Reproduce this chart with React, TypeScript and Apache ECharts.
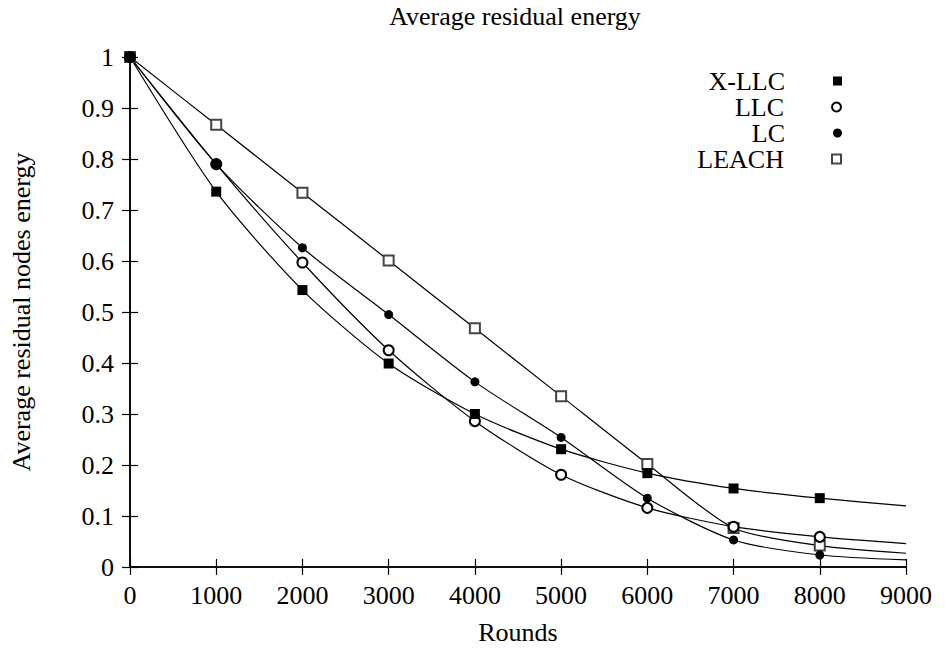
import React, { useEffect, useRef } from "react";
import * as echarts from "echarts";

const rounds = [0, 1000, 2000, 3000, 4000, 5000, 6000, 7000, 8000, 9000];
const xllcValues = [1, 0.736, 0.543, 0.399, 0.3, 0.231, 0.184, 0.154, 0.135, 0.12];
const llcValues = [1, 0.79, 0.597, 0.425, 0.286, 0.181, 0.116, 0.079, 0.059, 0.046];
const lcValues = [1, 0.79, 0.626, 0.495, 0.363, 0.254, 0.135, 0.053, 0.0235, 0.014];
const leachValues = [1, 0.867, 0.734, 0.601, 0.468, 0.335, 0.202, 0.0765, 0.042, 0.027];
const seriesNames = ["X-LLC", "LLC", "LC", "LEACH"];
const xTicks = { min: 0, max: 9000, interval: 1000 };
const yTicks = { min: 0, max: 1, interval: 0.1 };

const FONT = "Liberation Serif";

function buildData(vals: number[]) {
  return rounds.map((r, i) =>
    i === rounds.length - 1 ? { value: [r, vals[i]], symbol: "none" } : { value: [r, vals[i]] }
  );
}

export default function App() {
  const ref = useRef<HTMLDivElement>(null);
  useEffect(() => {
    if (!ref.current) return;
    const chart = echarts.init(ref.current, null, { renderer: "svg" });
    const axisLine = { show: true, lineStyle: { color: "#000", width: 1.6 } };
    const tick = { show: true, inside: true, length: 8, lineStyle: { color: "#000", width: 1.2 } };
    const label = { fontFamily: FONT, fontSize: 26, color: "#000" };
    const legendCenters = [79, 105, 131, 157];
    const icons = ["rect", "emptyCircle", "circle", "emptyRect"];
    const common = {
      type: "line",
      smooth: 0.25,
      lineStyle: { color: "#000", width: 1.2 },
      symbolSize: 9,
      xAxisIndex: 0,
      yAxisIndex: 0,
    };
    chart.setOption({
      animation: false,
      backgroundColor: "#fff",
      title: {
        text: "Average residual energy",
        left: 515,
        textAlign: "center",
        top: 3,
        padding: 0,
        textStyle: { fontFamily: FONT, fontSize: 26, fontWeight: "normal", color: "#000" },
      },
      legend: seriesNames.map((n, i) => ({
        data: [{ name: n, icon: icons[i] }],
        orient: "vertical",
        right: 103,
        top: legendCenters[i] - 11,
        align: "right",
        itemWidth: 9,
        itemHeight: 9,
        padding: 0,
        selectedMode: false,
        textStyle: { fontFamily: FONT, fontSize: 26, lineHeight: 22, color: "#000", padding: [0, 43, 0, 0] },
      })),
      grid: { left: 130, right: 39, top: 57, bottom: 84, containLabel: false },
      xAxis: [
        {
          type: "value",
          ...xTicks,
          position: "bottom",
          name: "Rounds",
          nameLocation: "middle",
          nameGap: 52,
          nameTextStyle: label,
          axisLine,
          axisTick: tick,
          axisLabel: { ...label, margin: 15, formatter: (v: number) => String(v) },
          splitLine: { show: false },
        },
        {
          type: "value",
          ...xTicks,
          position: "top",
          axisLine,
          axisTick: tick,
          axisLabel: { show: false },
          splitLine: { show: false },
        },
      ],
      yAxis: [
        {
          type: "value",
          ...yTicks,
          position: "left",
          name: "Average residual nodes energy",
          nameLocation: "middle",
          nameGap: 96,
          nameRotate: 90,
          nameTextStyle: label,
          axisLine,
          axisTick: tick,
          axisLabel: { ...label, margin: 16 },
          splitLine: { show: false },
        },
        {
          type: "value",
          ...yTicks,
          position: "right",
          axisLine,
          axisTick: tick,
          axisLabel: { show: false },
          splitLine: { show: false },
        },
      ],
      series: [
        {
          ...common,
          name: "LEACH",
          data: buildData(leachValues),
          symbol: "emptyRect",
          symbolSize: 10,
          itemStyle: { color: "#444", borderWidth: 1 },
        },
        {
          ...common,
          name: "LLC",
          data: buildData(llcValues),
          symbol: "emptyCircle",
          symbolSize: 10,
          itemStyle: { color: "#000", borderWidth: 1 },
        },
        {
          ...common,
          name: "LC",
          data: buildData(lcValues),
          symbol: "circle",
          symbolSize: 9,
          itemStyle: { color: "#000" },
        },
        {
          ...common,
          name: "X-LLC",
          data: buildData(xllcValues),
          symbol: "rect",
          symbolSize: 10,
          itemStyle: { color: "#000" },
        },
      ],
    });
    return () => chart.dispose();
  }, []);
  return <div ref={ref} style={{ width: 945, height: 651, position: "absolute", left: 0, top: 0 }} />;
}
